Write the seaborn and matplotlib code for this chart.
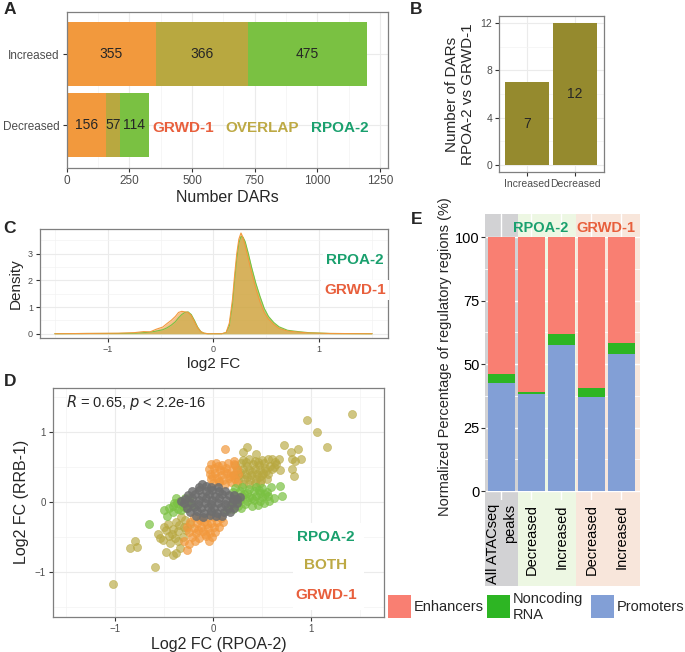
import numpy as np
import pandas as pd
import matplotlib
matplotlib.use('Agg')
import matplotlib.pyplot as plt
from matplotlib.patches import Rectangle
from matplotlib.transforms import blended_transform_factory
import seaborn as sns

# ---- panel A : DARs per direction
dar_dirs = ['Increased', 'Decreased']
dar_grwd = [355, 156]
dar_overlap = [366, 57]
dar_rpoa = [475, 114]

# ---- panel B : RPOA-2 vs GRWD-1
b_dirs = ['Increased', 'Decreased']
b_counts = [7, 12]

# ---- panel C : density of log2 FC
fc_grid = [-1.5, -1.2, -0.9, -0.75, -0.66, -0.6, -0.54, -0.48, -0.44, -0.4, -0.36, -0.33, -0.3,
           -0.27, -0.24, -0.21, -0.18, -0.15, -0.12, -0.09, -0.05, 0.0, 0.08, 0.12, 0.15, 0.18,
           0.2, 0.22, 0.24, 0.26, 0.28, 0.3, 0.33, 0.36, 0.4, 0.44, 0.48, 0.52, 0.57, 0.62, 0.7,
           0.8, 0.9, 1.1, 1.5]
dens_grwd = [0, 0.01, 0.02, 0.04, 0.08, 0.07, 0.17, 0.25, 0.38, 0.5, 0.65, 0.8, 0.84,
             0.82, 0.8, 0.68, 0.45, 0.22, 0.08, 0.02, 0, 0, 0, 0.05, 0.4, 1.3,
             2.2, 3.0, 3.55, 3.78, 3.6, 3.3, 2.8, 2.3, 1.7, 1.2, 0.8, 0.55, 0.35, 0.2, 0.1,
             0.06, 0.03, 0.01, 0]
dens_rpoa = [0, 0.01, 0.01, 0.02, 0.04, 0.06, 0.1, 0.15, 0.22, 0.32, 0.45, 0.6, 0.72,
             0.8, 0.82, 0.72, 0.5, 0.25, 0.08, 0.02, 0, 0, 0, 0.04, 0.3, 1.1,
             2.0, 2.8, 3.4, 3.65, 3.62, 3.45, 3.0, 2.5, 1.9, 1.4, 0.95, 0.65, 0.42, 0.26, 0.13,
             0.08, 0.04, 0.01, 0]

# ---- panel D : log2 FC RPOA-2 vs RRB-1
both_pts = [(0.30, 0.60), (0.36, 0.61), (0.42, 0.59), (0.50, 0.60), (0.56, 0.62),
            (0.22, 0.53), (0.28, 0.55), (0.34, 0.52), (0.40, 0.54), (0.46, 0.53), (0.52, 0.55),
            (0.58, 0.52), (0.64, 0.54), (0.24, 0.46), (0.30, 0.47), (0.36, 0.45), (0.42, 0.47),
            (0.48, 0.46), (0.54, 0.44), (0.60, 0.47), (0.26, 0.39), (0.32, 0.40), (0.38, 0.38),
            (0.44, 0.40), (0.50, 0.38), (0.56, 0.40), (0.25, 0.32), (0.31, 0.33), (0.37, 0.31),
            (0.43, 0.33), (0.49, 0.31), (0.30, 0.26), (0.36, 0.25), (0.42, 0.27),
            (0.33, 0.57), (0.45, 0.57), (0.27, 0.43), (0.39, 0.43), (0.51, 0.42), (0.34, 0.36),
            (0.46, 0.35), (0.53, 0.49), (0.47, 0.27), (0.21, 0.38), (0.63, 0.57), (0.55, 0.33),
            (0.95, 1.17), (1.06, 1.00), (1.16, 0.78), (1.41, 1.26), (0.72, 0.81), (0.79, 0.71),
            (0.86, 0.76), (0.89, 0.62), (0.80, 0.62), (0.83, 0.59), (0.80, 0.47), (0.82, 0.37),
            (0.34, 0.78), (0.30, 0.71), (0.43, 0.68), (0.67, 0.61), (0.60, 0.61), (0.68, 0.46),
            (0.62, 0.50),
            (-1.02, -1.17), (-0.60, -0.93), (-0.85, -0.66), (-0.78, -0.64), (-0.80, -0.55),
            (-0.48, -0.71), (-0.41, -0.76), (-0.38, -0.73), (-0.34, -0.65), (-0.57, -0.45),
            (-0.55, -0.52), (-0.51, -0.54), (-0.48, -0.40), (-0.46, -0.31), (-0.45, -0.49),
            (-0.36, -0.42), (-0.41, -0.38), (-0.35, -0.33), (-0.29, -0.26), (-0.31, -0.50),
            (-0.28, -0.40), (-0.39, -0.52), (-0.42, -0.45), (-0.33, -0.22), (-0.38, -0.28),
            (-0.50, -0.36), (-0.24, -0.32), (-0.44, -0.58), (-0.36, -0.56), (-0.30, -0.35)]
grwd_pts = [(-0.03, 0.54), (0.03, 0.55), (0.09, 0.53), (0.15, 0.55), (0.21, 0.54),
            (-0.05, 0.47), (0.01, 0.48), (0.07, 0.46), (0.13, 0.48), (0.19, 0.46), (0.24, 0.47),
            (-0.04, 0.40), (0.02, 0.41), (0.08, 0.39), (0.14, 0.41), (0.20, 0.39), (0.25, 0.40),
            (-0.02, 0.33), (0.04, 0.34), (0.10, 0.32), (0.16, 0.34), (0.22, 0.33),
            (0.00, 0.27), (0.06, 0.28), (0.12, 0.26), (0.18, 0.28), (0.24, 0.27),
            (0.05, 0.51), (0.11, 0.44), (0.17, 0.37), (-0.01, 0.37), (0.06, 0.30),
            (0.21, 0.59), (0.12, 0.76),
            (-0.20, -0.22), (-0.13, -0.23), (-0.06, -0.21), (0.01, -0.22), (0.08, -0.23),
            (-0.24, -0.29), (-0.17, -0.30), (-0.10, -0.28), (-0.03, -0.30), (0.04, -0.28),
            (0.10, -0.29), (-0.27, -0.36), (-0.20, -0.37), (-0.13, -0.35), (-0.06, -0.37),
            (0.01, -0.35), (0.06, -0.36), (-0.25, -0.43), (-0.18, -0.44), (-0.11, -0.42),
            (-0.04, -0.44), (0.02, -0.43), (-0.22, -0.50), (-0.15, -0.51), (-0.08, -0.49),
            (-0.01, -0.50), (-0.14, -0.26), (-0.07, -0.32), (-0.16, -0.40), (-0.09, -0.46),
            (-0.27, -0.68), (-0.25, -0.60), (-0.30, -0.55), (-0.05, -0.55), (-0.19, -0.56)]
rpoa_pts = [(0.22, 0.20), (0.29, 0.21), (0.36, 0.19), (0.43, 0.21), (0.50, 0.20),
            (0.20, 0.14), (0.27, 0.15), (0.34, 0.13), (0.41, 0.15), (0.48, 0.13), (0.55, 0.14),
            (0.22, 0.08), (0.29, 0.09), (0.36, 0.07), (0.43, 0.09), (0.50, 0.07), (0.56, 0.08),
            (0.20, 0.02), (0.27, 0.03), (0.34, 0.01), (0.41, 0.03), (0.48, 0.01),
            (0.18, -0.04), (0.25, -0.05), (0.32, -0.03), (0.39, -0.05), (0.45, -0.04),
            (0.31, 0.11), (0.39, 0.05), (0.46, 0.17), (0.25, 0.00), (0.53, 0.11),
            (0.68, 0.23), (0.70, 0.08), (0.62, 0.06), (0.57, 0.01), (0.59, 0.22), (0.52, -0.02),
            (0.28, -0.09), (0.14, -0.12), (0.20, -0.10),
            (-0.45, -0.09), (-0.41, -0.06), (-0.37, -0.02), (-0.34, 0.02), (-0.29, 0.05),
            (-0.47, -0.20), (-0.41, -0.14), (-0.36, -0.10), (-0.31, -0.05), (-0.26, 0.00),
            (-0.40, -0.02), (-0.33, -0.12), (-0.28, -0.08), (-0.22, -0.04), (-0.25, 0.06),
            (-0.50, -0.12), (-0.66, -0.31), (-0.38, 0.05)]
ns_pts = [(-0.15, 0.22), (-0.08, 0.23), (-0.02, 0.21), (0.05, 0.22),
          (-0.22, 0.16), (-0.15, 0.17), (-0.08, 0.15), (-0.01, 0.17), (0.06, 0.15), (0.12, 0.16),
          (-0.26, 0.10), (-0.19, 0.11), (-0.12, 0.09), (-0.05, 0.11), (0.02, 0.09), (0.09, 0.11),
          (0.16, 0.10), (0.21, 0.10), (-0.29, 0.04), (-0.22, 0.05), (-0.15, 0.03), (-0.08, 0.05),
          (-0.01, 0.03), (0.06, 0.05), (0.13, 0.03), (0.20, 0.04), (0.24, 0.04),
          (-0.30, -0.02), (-0.23, -0.01), (-0.16, -0.03), (-0.09, -0.01), (-0.02, -0.03),
          (0.05, -0.01), (0.12, -0.03), (0.19, -0.02), (0.24, -0.02),
          (-0.27, -0.08), (-0.20, -0.07), (-0.13, -0.09), (-0.06, -0.07), (0.01, -0.09),
          (0.08, -0.07), (0.15, -0.08), (0.21, -0.08), (-0.24, -0.14), (-0.17, -0.13),
          (-0.10, -0.15), (-0.03, -0.13), (0.04, -0.15), (0.11, -0.14), (0.17, -0.14),
          (-0.18, -0.20), (-0.11, -0.21), (-0.04, -0.19), (0.03, -0.20), (0.09, -0.20),
          (-0.12, 0.25), (-0.33, 0.01), (0.27, 0.07)]

# ---- panel E : regulatory regions (%)
e_labels = ['All ATACseq\npeaks', 'Decreased', 'Increased', 'Decreased', 'Increased']
promoters = [42.6, 38.2, 57.4, 37.1, 54.1]
noncoding = [3.7, 0.8, 4.4, 3.6, 4.3]
enhancers = [53.7, 61.0, 38.2, 59.3, 41.6]

C_OR = '#F2993D'
C_OL = '#B8A840'
C_GR = '#7AC142'
T_GR = '#1AA06E'
T_OR = '#E85F3C'
T_OL = '#BDA944'

sns.set_theme(style='white')
plt.rcParams['font.family'] = ['Liberation Sans', 'DejaVu Sans']

W, H = 685, 652
fig = plt.figure(figsize=(W / 100, H / 100), dpi=100)


def box(l, t, r, b):
    return [l / W, 1 - b / H, (r - l) / W, (b - t) / H]


def bw(ax, size=8):
    ax.set_facecolor('white')
    for s in ax.spines.values():
        s.set_color('#7F7F7F')
        s.set_linewidth(0.9)
    ax.set_axisbelow(True)
    ax.grid(True, which='major', color='#EBEBEB', lw=0.8)
    ax.grid(True, which='minor', color='#F3F3F3', lw=0.5)
    ax.tick_params(which='major', length=3, width=0.8, color='#333333', labelcolor='#4D4D4D',
                   labelsize=size, pad=2, bottom=True, left=True)
    ax.tick_params(which='minor', length=0)


# ---------------- A
axA = fig.add_axes(box(66.7, 11.7, 387.7, 168))
pos = np.arange(len(dar_dirs))
left2 = np.array(dar_grwd)
left3 = left2 + np.array(dar_overlap)
axA.barh(pos, dar_grwd, height=0.9, color=C_OR, linewidth=0)
axA.barh(pos, dar_overlap, left=left2, height=0.9, color=C_OL, linewidth=0)
axA.barh(pos, dar_rpoa, left=left3, height=0.9, color=C_GR, linewidth=0)
for i in range(len(dar_dirs)):
    axA.text(dar_grwd[i] / 2, i, str(dar_grwd[i]), ha='center', va='center', fontsize=10)
    axA.text(left2[i] + dar_overlap[i] / 2, i, str(dar_overlap[i]), ha='center', va='center', fontsize=10)
    axA.text(left3[i] + dar_rpoa[i] / 2, i, str(dar_rpoa[i]), ha='center', va='center', fontsize=10)
axA.set_xlim(0, 1280)
axA.set_ylim(1.6, -0.6)
axA.set_yticks(pos, dar_dirs)
axA.set_xticks([0, 250, 500, 750, 1000, 1250])
axA.set_xticks([125, 375, 625, 875, 1125], minor=True)
bw(axA, 8.5)
axA.set_xlabel('Number DARs', fontsize=11.5, labelpad=2)
axA.text(464, 1.03, 'GRWD-1', color=T_OR, fontsize=11, fontweight='bold', ha='center', va='center')
axA.text(779, 1.03, 'OVERLAP', color=T_OL, fontsize=11, fontweight='bold', ha='center', va='center')
axA.text(1090, 1.03, 'RPOA-2', color=T_GR, fontsize=11, fontweight='bold', ha='center', va='center')

# ---------------- B
axB = fig.add_axes(box(499, 16, 604, 172))
sns.barplot(x=b_dirs, y=b_counts, color='#958A2E', saturation=1, width=0.9, linewidth=0, ax=axB)
for i, v in enumerate(b_counts):
    axB.text(i, v / 2, str(v), ha='center', va='center', fontsize=10)
axB.set_xlim(-0.583, 1.604)
axB.set_ylim(-0.6, 12.6)
axB.set_yticks([0, 4, 8, 12])
axB.set_yticks([2, 6, 10], minor=True)
bw(axB, 7.5)
axB.set_ylabel('Number of DARs\nRPOA-2 vs GRWD-1', fontsize=11, labelpad=4)

# ---------------- C
axC = fig.add_axes(box(40, 229, 388, 338))
axC.fill_between(fc_grid, dens_rpoa, color=C_GR, alpha=0.6, lw=0)
axC.fill_between(fc_grid, dens_grwd, color=C_OR, alpha=0.6, lw=0)
sns.lineplot(x=fc_grid, y=dens_rpoa, color=C_GR, lw=0.8, ax=axC)
sns.lineplot(x=fc_grid, y=dens_grwd, color=C_OR, lw=0.8, ax=axC)
axC.set_xlim(-1.64, 1.65)
axC.set_ylim(-0.16, 3.93)
axC.set_xticks([-1, 0, 1])
axC.set_xticks([-1.5, -0.5, 0.5, 1.5], minor=True)
axC.set_yticks([0, 1, 2, 3])
axC.set_yticks([0.5, 1.5, 2.5, 3.5], minor=True)
bw(axC, 6.5)
axC.set_xlabel('log2 FC', fontsize=11, labelpad=2)
axC.set_ylabel('Density', fontsize=11, labelpad=4)
axC.text(0.905, 0.72, 'RPOA-2', transform=axC.transAxes, color=T_GR, fontsize=11,
         fontweight='bold', ha='center', va='center',
         bbox=dict(facecolor='white', edgecolor='none', pad=2))
axC.text(0.905, 0.44, 'GRWD-1', transform=axC.transAxes, color=T_OR, fontsize=11,
         fontweight='bold', ha='center', va='center',
         bbox=dict(facecolor='white', edgecolor='none', pad=2))

# ---------------- D
axD = fig.add_axes(box(52.7, 387.7, 384, 617))
groups = [('BOTH', both_pts), ('GRWD-1', grwd_pts), ('RPOA-2', rpoa_pts), ('NS', ns_pts)]
df = pd.DataFrame([(x, y, g) for g, pts in groups for (x, y) in pts], columns=['rpoa', 'rrb', 'group'])
pal = {'BOTH': C_OL, 'GRWD-1': C_OR, 'RPOA-2': C_GR, 'NS': '#6E6E6E'}
for g, a in [('BOTH', 0.65), ('GRWD-1', 0.7), ('RPOA-2', 0.7), ('NS', 0.85)]:
    sub = df[df.group == g]
    sns.scatterplot(data=sub, x='rpoa', y='rrb', color=pal[g], s=34, alpha=a,
                    edgecolor=pal[g], linewidth=0.5, ax=axD, legend=False)
axD.set_xlim(-1.64, 1.74)
axD.set_ylim(-1.64, 1.63)
axD.set_xticks([-1, 0, 1])
axD.set_xticks([-1.5, -0.5, 0.5, 1.5], minor=True)
axD.set_yticks([-1, 0, 1])
axD.set_yticks([-1.5, -0.5, 0.5, 1.5], minor=True)
bw(axD, 7)
axD.set_xlabel('Log2 FC (RPOA-2)', fontsize=11.5, labelpad=2)
axD.set_ylabel('Log2 FC (RRB-1)', fontsize=11.5, labelpad=4)
axD.text(0.04, 0.975, r'$R$ = 0.65, $p$ < 2.2e-16', transform=axD.transAxes, fontsize=10.5,
         ha='left', va='top')
axD.add_patch(Rectangle((0.725, 0.03), 0.215, 0.38, transform=axD.transAxes,
                        facecolor='white', edgecolor='none', zorder=3))
for txt, col, yy in [('RPOA-2', T_GR, 0.35), ('BOTH', T_OL, 0.225), ('GRWD-1', T_OR, 0.095)]:
    axD.text(0.825, yy, txt, transform=axD.transAxes, color=col, fontsize=11,
             fontweight='bold', ha='center', va='center', zorder=4)

# ---------------- E
axE = fig.add_axes(box(485, 214, 640, 500))
axE.set_facecolor('none')
xe = np.arange(len(e_labels))
trans = blended_transform_factory(axE.transData, axE.transAxes)
for x0, x1, col in [(-0.55, 0.56, '#D2D2D4'), (0.56, 2.49, '#EDF7E3'), (2.49, 4.62, '#F8E6DB')]:
    axE.add_patch(Rectangle((x0, -0.302), x1 - x0, 1.302, transform=trans, facecolor=col,
                            edgecolor='none', clip_on=False, zorder=0.1))
bot2 = np.array(promoters)
bot3 = bot2 + np.array(noncoding)
axE.bar(xe, promoters, width=0.9, color='#829FD6', linewidth=0, zorder=2)
axE.bar(xe, noncoding, bottom=bot2, width=0.9, color='#2DB523', linewidth=0, zorder=2)
axE.bar(xe, enhancers, bottom=bot3, width=0.9, color='#F97F72', linewidth=0, zorder=2)
axE.set_xlim(-0.55, 4.62)
axE.set_ylim(-3.5, 109.1)
axE.set_yticks([0, 25, 50, 75, 100])
axE.set_yticks([12.5, 37.5, 62.5, 87.5], minor=True)
axE.set_xticks(xe, e_labels, rotation=90, multialignment='right', va='top', ha='center')
axE.set_axisbelow(True)
axE.grid(True, which='major', color='white', lw=1.0)
axE.grid(True, which='minor', color='white', lw=0.6)
for s in axE.spines.values():
    s.set_visible(False)
axE.tick_params(axis='y', which='major', length=3, width=0.8, color='#333333', labelsize=10.5,
                labelcolor='black', pad=1, left=True)
axE.tick_params(axis='x', which='major', length=0, labelsize=10.5, labelcolor='black', pad=3)
axE.tick_params(which='minor', length=0)
axE.set_ylabel('Normalized Percentage of regulatory regions (%)', fontsize=10.5, labelpad=2)
axE.text(1.3, 103.5, 'RPOA-2', color=T_GR, fontsize=10.5, fontweight='bold', ha='center', va='center')
axE.text(3.49, 103.5, 'GRWD-1', color=T_OR, fontsize=10.5, fontweight='bold', ha='center', va='center')

# legend for E
leg = [('Enhancers', '#F97F72', 388), ('Noncoding\nRNA', '#2DB523', 487), ('Promoters', '#829FD6', 591)]
for lab, col, lx in leg:
    fig.patches.append(Rectangle((lx / W, 1 - 618 / H), 23 / W, 23 / H, transform=fig.transFigure,
                                 facecolor=col, edgecolor='none'))
    fig.text((lx + 26) / W, 1 - 607 / H, lab, fontsize=10.5, ha='left', va='center')

# panel letters
for lab, px, py in [('A', 4, 2), ('B', 410, 2), ('C', 3, 221), ('D', 4, 374), ('E', 411, 212)]:
    fig.text(px / W, 1 - py / H, lab, fontsize=12.5, fontweight='bold', ha='left', va='top')

fig.savefig('out.png', dpi=100)
